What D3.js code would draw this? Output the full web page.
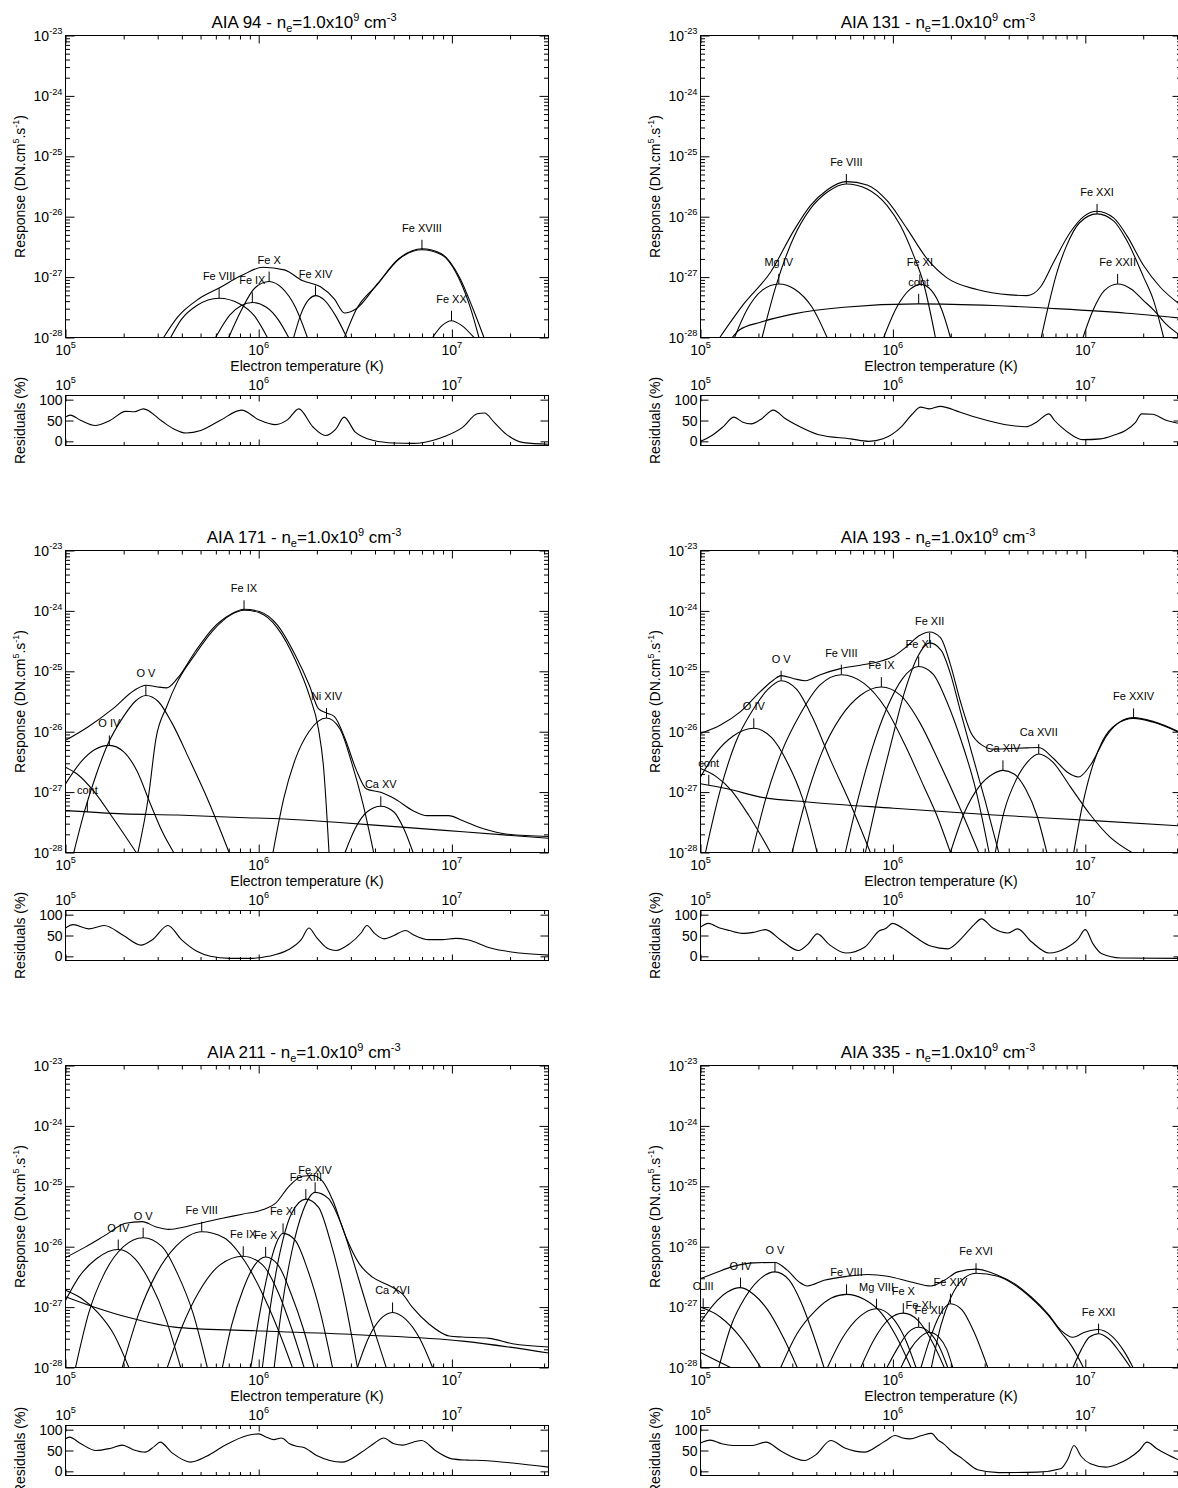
<!DOCTYPE html>
<html><head><meta charset="utf-8">
<script src="https://cdn.jsdelivr.net/npm/d3@7"></script>
<style>
body{margin:0;background:#fff}
svg{display:block}
text{font-family:"Liberation Sans",Arial,Helvetica,sans-serif;fill:#000;white-space:pre}
</style></head>
<body><svg id="c" width="1178" height="1488"></svg>
<script>
// ---------- tick labels ----------
const xTickExp = [5, 6, 7];
const yTickExp = [-23, -24, -25, -26, -27, -28];
const residTicks = [0, 50, 100];
const channels = ["94", "131", "171", "193", "211", "335"];

// ---------- data: [log10 T, log10 response] ----------
// AIA 94
const aia94_total = [[5.508,-28.0],[5.579,-27.667],[5.689,-27.363],[5.795,-27.18],[5.911,-26.975],[6.022,-26.836],[6.133,-26.88],[6.226,-27.058],[6.318,-27.157],[6.392,-27.363],[6.444,-27.595],[6.503,-27.529],[6.614,-27.113],[6.725,-26.697],[6.845,-26.531],[6.946,-26.614],[7.039,-27.002],[7.113,-27.557],[7.166,-28.0]];
const aia94_FeVIII = [[5.544,-28],[5.6,-27.7],[5.68,-27.47],[5.795,-27.35],[5.9,-27.44],[5.98,-27.65],[6.045,-28]];
const aia94_FeIX = [[5.777,-28],[5.85,-27.63],[5.91,-27.47],[5.967,-27.42],[6.04,-27.5],[6.1,-27.7],[6.155,-28]];
const aia94_FeX = [[5.845,-28],[5.91,-27.55],[5.98,-27.18],[6.054,-27.074],[6.12,-27.18],[6.19,-27.5],[6.252,-28]];
const aia94_FeXIV = [[6.181,-28],[6.22,-27.6],[6.26,-27.37],[6.294,-27.307],[6.34,-27.38],[6.4,-27.65],[6.456,-28]];
const aia94_FeXVIII = [[6.444,-28],[6.503,-27.55],[6.614,-27.125],[6.725,-26.705],[6.845,-26.548],[6.946,-26.63],[7.039,-27.04],[7.1,-27.55],[7.14,-28]];
const aia94_FeXX = [[6.9,-28],[6.95,-27.8],[6.998,-27.723],[7.05,-27.8],[7.114,-28]];
const aia94_labels = [["Fe VIII",5.795,-27.35],["Fe IX",5.967,-27.418],["Fe X",6.054,-27.074],["Fe XIV",6.294,-27.307],["Fe XVIII",6.845,-26.548],["Fe XX",6.998,-27.723]];
const aia94_resid = [[5.0,58],[5.024,63],[5.08,50],[5.153,38],[5.23,50],[5.311,72],[5.357,71],[5.403,78],[5.5,48],[5.56,30],[5.625,20],[5.7,26],[5.8,50],[5.911,75],[6.0,52],[6.087,40],[6.15,52],[6.207,78],[6.28,35],[6.346,14],[6.4,30],[6.442,58],[6.5,22],[6.595,2],[6.7,-4],[6.8,-5],[6.9,2],[6.965,12],[7.057,34],[7.131,66],[7.168,68],[7.22,45],[7.279,18],[7.372,-3],[7.5,-7]];

// AIA 131
const aia131_total = [[5.1,-28.0],[5.225,-27.443],[5.364,-26.919],[5.485,-26.23],[5.571,-25.816],[5.658,-25.557],[5.758,-25.419],[5.866,-25.474],[5.97,-25.734],[6.074,-26.202],[6.178,-26.699],[6.281,-27.013],[6.437,-27.206],[6.61,-27.295],[6.697,-27.306],[6.766,-27.168],[6.835,-26.754],[6.922,-26.258],[6.991,-25.998],[7.061,-25.91],[7.147,-26.02],[7.216,-26.313],[7.303,-26.809],[7.39,-27.168],[7.483,-27.432]];
const aia131_FeVIII = [[5.32,-28],[5.39,-27.17],[5.485,-26.34],[5.571,-25.87],[5.658,-25.596],[5.758,-25.458],[5.866,-25.54],[5.97,-25.816],[6.039,-26.147],[6.108,-26.644],[6.16,-27.11],[6.221,-28]];
const aia131_MgIV = [[5.177,-28],[5.24,-27.55],[5.32,-27.22],[5.407,-27.113],[5.49,-27.2],[5.58,-27.5],[5.658,-28]];
const aia131_cont = [[5.165,-28],[5.2,-27.88],[5.312,-27.747],[5.485,-27.609],[5.745,-27.499],[6.134,-27.443],[6.524,-27.471],[6.87,-27.526],[7.216,-27.598],[7.5,-27.68]];
const aia131_FeXI = [[5.952,-28],[6.02,-27.5],[6.09,-27.2],[6.145,-27.12],[6.2,-27.22],[6.255,-27.55],[6.299,-28]];
const aia131_FeXXI = [[6.771,-28],[6.81,-27.45],[6.85,-26.95],[6.9,-26.5],[6.97,-26.1],[7.061,-25.954],[7.147,-26.07],[7.216,-26.395],[7.303,-27.0],[7.355,-27.39],[7.407,-28]];
const aia131_FeXXII = [[6.988,-28],[7.04,-27.55],[7.1,-27.22],[7.168,-27.113],[7.24,-27.2],[7.3,-27.38],[7.357,-27.55],[7.42,-27.78],[7.5,-27.98]];
const aia131_labels = [["Fe VIII",5.758,-25.458],["Mg IV",5.407,-27.113],["Fe XI",6.14,-27.12],["cont",6.134,-27.443],["Fe XXI",7.061,-25.954],["Fe XXII",7.168,-27.113]];
const aia131_resid = [[5.0,0],[5.059,14],[5.12,36],[5.174,58],[5.22,46],[5.263,42],[5.32,55],[5.378,75],[5.44,55],[5.504,38],[5.615,16],[5.782,6],[5.875,0],[5.949,6],[6.042,34],[6.1,65],[6.144,82],[6.19,78],[6.246,84],[6.35,70],[6.431,58],[6.616,38],[6.69,35],[6.746,46],[6.811,66],[6.84,50],[6.876,34],[6.93,15],[6.987,4],[7.08,6],[7.15,15],[7.209,26],[7.26,45],[7.293,66],[7.349,65],[7.423,50],[7.5,42]];

// AIA 171
const aia171_total = [[5.0,-26.144],[5.116,-25.922],[5.246,-25.618],[5.357,-25.313],[5.416,-25.23],[5.47,-25.255],[5.523,-25.274],[5.579,-25.119],[5.671,-24.676],[5.763,-24.288],[5.856,-24.055],[5.924,-23.972],[6.004,-24.011],[6.096,-24.233],[6.189,-24.731],[6.262,-25.23],[6.309,-25.618],[6.351,-25.69],[6.392,-25.75],[6.447,-26.116],[6.503,-26.615],[6.558,-26.947],[6.632,-27.003],[6.706,-27.114],[6.799,-27.307],[6.872,-27.39],[6.983,-27.39],[7.057,-27.474],[7.168,-27.612],[7.279,-27.695],[7.5,-27.734]];
const aia171_low = [[5.0,-26.587],[5.06,-26.7],[5.15,-27.0],[5.25,-27.45],[5.366,-28]];
const aia171_OIV = [[5.0,-26.864],[5.08,-26.5],[5.15,-26.3],[5.227,-26.227],[5.3,-26.33],[5.37,-26.65],[5.44,-27.2],[5.5,-27.65],[5.56,-28]];
const aia171_OV = [[5.043,-28],[5.1,-27.3],[5.16,-26.7],[5.22,-26.2],[5.3,-25.75],[5.36,-25.5],[5.416,-25.4],[5.48,-25.5],[5.55,-25.85],[5.64,-26.45],[5.74,-27.15],[5.847,-28]];
const aia171_FeIX = [[5.375,-28],[5.43,-27.06],[5.468,-26.12],[5.523,-25.59],[5.579,-25.175],[5.671,-24.72],[5.763,-24.327],[5.856,-24.066],[5.924,-23.99],[6.004,-24.03],[6.096,-24.28],[6.189,-24.81],[6.262,-25.4],[6.309,-25.95],[6.336,-26.6],[6.364,-28]];
const aia171_NiXIV = [[6.074,-28],[6.13,-27.1],[6.19,-26.45],[6.26,-26.0],[6.351,-25.773],[6.42,-25.95],[6.48,-26.5],[6.54,-27.2],[6.595,-28]];
const aia171_CaXV = [[6.447,-28],[6.5,-27.6],[6.56,-27.33],[6.632,-27.235],[6.7,-27.33],[6.75,-27.6],[6.799,-28]];
const aia171_cont = [[5.0,-27.307],[5.3,-27.36],[5.579,-27.38],[5.9,-27.42],[6.133,-27.446],[6.4,-27.5],[6.688,-27.568],[7.057,-27.657],[7.5,-27.765]];
const aia171_labels = [["O IV",5.227,-26.227],["O V",5.416,-25.4],["Fe IX",5.924,-23.99],["Ni XIV",6.351,-25.773],["Ca XV",6.632,-27.235],["cont",5.113,-27.33]];
const aia171_resid = [[5.0,68],[5.04,76],[5.12,66],[5.2,74],[5.3,50],[5.39,27],[5.45,40],[5.53,74],[5.6,40],[5.68,12],[5.75,0],[5.85,-5],[5.95,-5],[6.05,0],[6.15,15],[6.22,40],[6.26,68],[6.3,45],[6.36,18],[6.4,14],[6.47,30],[6.53,56],[6.56,74],[6.6,55],[6.65,42],[6.7,50],[6.76,62],[6.8,52],[6.88,40],[6.95,40],[7.02,43],[7.08,40],[7.2,20],[7.35,8],[7.5,3]];

// AIA 193
const aia193_total = [[5.0,-26.028],[5.104,-25.889],[5.208,-25.667],[5.312,-25.333],[5.381,-25.139],[5.419,-25.072],[5.485,-25.122],[5.545,-25.156],[5.623,-25.056],[5.727,-24.956],[5.831,-24.9],[5.935,-24.833],[6.004,-24.75],[6.074,-24.583],[6.134,-24.417],[6.191,-24.35],[6.247,-24.444],[6.299,-24.889],[6.351,-25.5],[6.403,-26.0],[6.463,-26.222],[6.524,-26.289],[6.61,-26.278],[6.697,-26.267],[6.758,-26.261],[6.835,-26.444],[6.905,-26.667],[6.965,-26.75],[7.026,-26.556],[7.113,-26.056],[7.182,-25.833],[7.251,-25.767],[7.355,-25.833],[7.5,-26.02]];
const aia193_low = [[5.0,-26.61],[5.08,-26.74],[5.16,-26.97],[5.25,-27.38],[5.364,-28]];
const aia193_cont = [[5.0,-26.861],[5.139,-26.944],[5.312,-27.083],[5.571,-27.167],[6.004,-27.267],[6.524,-27.378],[7.043,-27.472],[7.5,-27.56]];
const aia193_OIV = [[5.0,-26.75],[5.08,-26.35],[5.17,-26.07],[5.277,-25.944],[5.37,-26.1],[5.45,-26.5],[5.53,-27.1],[5.606,-28]];
const aia193_OV = [[5.026,-28],[5.1,-27.0],[5.18,-26.2],[5.28,-25.6],[5.35,-25.3],[5.419,-25.156],[5.5,-25.3],[5.58,-25.75],[5.68,-26.5],[5.78,-27.2],[5.883,-28]];
const aia193_FeVIII = [[5.268,-28],[5.34,-27.1],[5.42,-26.35],[5.52,-25.7],[5.62,-25.23],[5.732,-25.056],[5.85,-25.2],[5.96,-25.6],[6.06,-26.2],[6.16,-26.9],[6.23,-27.4],[6.299,-28]];
const aia193_FeIX = [[5.476,-28],[5.55,-27.1],[5.63,-26.35],[5.73,-25.75],[5.83,-25.4],[5.94,-25.261],[6.04,-25.4],[6.14,-25.85],[6.24,-26.5],[6.34,-27.2],[6.446,-28]];
const aia193_FeXI = [[5.753,-28],[5.82,-27.1],[5.89,-26.3],[5.97,-25.6],[6.05,-25.12],[6.134,-24.92],[6.21,-25.05],[6.28,-25.5],[6.35,-26.1],[6.43,-26.95],[6.5,-28]];
const aia193_FeXII = [[5.857,-28],[5.92,-27.1],[5.99,-26.2],[6.06,-25.35],[6.13,-24.75],[6.191,-24.53],[6.25,-24.65],[6.3,-25.05],[6.35,-25.65],[6.41,-26.35],[6.48,-27.15],[6.55,-28]];
const aia193_CaXIV = [[6.299,-28],[6.37,-27.35],[6.45,-26.9],[6.52,-26.7],[6.572,-26.64],[6.63,-26.7],[6.69,-26.95],[6.75,-27.4],[6.8,-28]];
const aia193_CaXVII = [[6.532,-28],[6.58,-27.3],[6.64,-26.8],[6.7,-26.5],[6.758,-26.37],[6.83,-26.5],[6.92,-26.9],[7.02,-27.35],[7.13,-27.75],[7.242,-28]];
const aia193_FeXXIV = [[6.94,-28],[6.98,-27.3],[7.03,-26.65],[7.09,-26.15],[7.16,-25.88],[7.251,-25.78],[7.35,-25.84],[7.5,-26.03]];
const aia193_labels = [["cont",5.043,-26.88],["O IV",5.277,-25.944],["O V",5.419,-25.156],["Fe VIII",5.732,-25.056],["Fe IX",5.94,-25.261],["Fe XI",6.134,-24.92],["Fe XII",6.191,-24.53],["Ca XIV",6.572,-26.64],["Ca XVII",6.758,-26.37],["Fe XXIV",7.251,-25.78]];
const aia193_resid = [[5.0,70],[5.04,79],[5.1,68],[5.149,62],[5.227,55],[5.28,58],[5.337,64],[5.42,38],[5.509,14],[5.56,30],[5.607,54],[5.67,28],[5.755,8],[5.853,22],[5.932,62],[5.96,66],[5.998,79],[6.049,68],[6.12,45],[6.2,24],[6.284,18],[6.36,45],[6.42,75],[6.46,90],[6.52,68],[6.597,56],[6.648,66],[6.72,35],[6.812,8],[6.9,20],[6.96,40],[7.0,64],[7.04,30],[7.086,6],[7.184,-4],[7.5,-5]];

// AIA 211
const aia211_total = [[5.0,-26.181],[5.104,-26.003],[5.207,-25.808],[5.311,-25.613],[5.397,-25.585],[5.466,-25.669],[5.535,-25.713],[5.622,-25.669],[5.708,-25.602],[5.812,-25.529],[5.915,-25.462],[6.019,-25.39],[6.088,-25.279],[6.157,-25.0],[6.226,-24.833],[6.278,-24.822],[6.33,-24.916],[6.382,-25.223],[6.451,-25.836],[6.52,-26.281],[6.589,-26.504],[6.675,-26.643],[6.744,-26.783],[6.796,-27.006],[6.883,-27.284],[6.986,-27.479],[7.055,-27.496],[7.193,-27.518],[7.314,-27.607],[7.5,-27.66]];
const aia211_low = [[5.0,-26.72],[5.08,-26.85],[5.17,-27.1],[5.25,-27.45],[5.328,-28]];
const aia211_cont = [[5.0,-26.827],[5.155,-27.006],[5.328,-27.173],[5.587,-27.34],[6.019,-27.396],[6.537,-27.462],[7.055,-27.563],[7.5,-27.76]];
const aia211_OIV = [[5.0,-26.89],[5.07,-26.5],[5.16,-26.2],[5.273,-26.047],[5.36,-26.2],[5.44,-26.6],[5.52,-27.2],[5.596,-28]];
const aia211_OV = [[5.052,-28],[5.12,-27.1],[5.2,-26.45],[5.3,-26.0],[5.402,-25.852],[5.5,-26.0],[5.58,-26.45],[5.66,-27.1],[5.734,-28]];
const aia211_FeVIII = [[5.294,-28],[5.38,-27.1],[5.47,-26.45],[5.57,-26.0],[5.705,-25.752],[5.82,-25.85],[5.93,-26.25],[6.03,-26.85],[6.11,-27.45],[6.174,-28]];
const aia211_FeIX = [[5.527,-28],[5.6,-27.35],[5.69,-26.75],[5.8,-26.3],[5.92,-26.159],[6.02,-26.3],[6.1,-26.75],[6.17,-27.35],[6.235,-28]];
const aia211_FeX = [[5.812,-28],[5.86,-27.3],[5.92,-26.7],[5.98,-26.3],[6.036,-26.17],[6.1,-26.3],[6.17,-26.8],[6.23,-27.35],[6.287,-28]];
const aia211_FeXI = [[5.959,-28],[6.0,-27.2],[6.05,-26.4],[6.09,-25.95],[6.126,-25.78],[6.19,-25.9],[6.25,-26.35],[6.32,-27.1],[6.382,-28]];
const aia211_FeXIII = [[6.019,-28],[6.06,-27.0],[6.11,-26.1],[6.17,-25.45],[6.244,-25.212],[6.31,-25.35],[6.37,-25.9],[6.44,-26.8],[6.511,-28]];
const aia211_FeXIV = [[6.08,-28],[6.12,-27.0],[6.17,-26.1],[6.23,-25.4],[6.292,-25.1],[6.36,-25.2],[6.43,-25.65],[6.5,-26.35],[6.58,-27.2],[6.66,-28]];
const aia211_CaXVI = [[6.511,-28],[6.57,-27.5],[6.63,-27.2],[6.693,-27.089],[6.76,-27.2],[6.83,-27.5],[6.9,-28]];
const aia211_labels = [["O IV",5.273,-26.047],["O V",5.402,-25.852],["Fe VIII",5.705,-25.752],["Fe IX",5.92,-26.159],["Fe X",6.036,-26.17],["Fe XI",6.126,-25.78],["Fe XIII",6.244,-25.212],["Fe XIV",6.292,-25.1],["Ca XVI",6.693,-27.089]];
const aia211_resid = [[5.0,78],[5.02,82],[5.08,66],[5.157,50],[5.23,55],[5.294,63],[5.35,52],[5.412,46],[5.46,60],[5.49,70],[5.55,45],[5.647,22],[5.73,36],[5.824,62],[5.941,86],[6.0,90],[6.04,82],[6.078,76],[6.118,80],[6.16,66],[6.196,60],[6.23,58],[6.3,38],[6.431,22],[6.53,45],[6.6,68],[6.647,80],[6.7,66],[6.745,63],[6.8,70],[6.843,74],[6.92,48],[7.0,30],[7.08,27],[7.157,26],[7.314,20],[7.5,10]];

// AIA 335
const aia335_total = [[5.0,-26.528],[5.069,-26.444],[5.174,-26.322],[5.278,-26.267],[5.387,-26.261],[5.451,-26.389],[5.512,-26.583],[5.556,-26.65],[5.642,-26.556],[5.764,-26.489],[5.868,-26.461],[5.972,-26.489],[6.094,-26.583],[6.198,-26.65],[6.267,-26.556],[6.337,-26.417],[6.432,-26.372],[6.545,-26.472],[6.632,-26.611],[6.719,-26.833],[6.806,-27.111],[6.875,-27.389],[6.936,-27.5],[6.997,-27.417],[7.066,-27.372],[7.135,-27.472],[7.205,-27.75],[7.248,-28]];
const aia335_low = [[5.0,-27.75],[5.08,-27.88],[5.156,-28]];
const aia335_OIII = [[5.0,-27.0],[5.104,-27.167],[5.208,-27.5],[5.313,-28]];
const aia335_OIV = [[5.0,-27.25],[5.07,-26.95],[5.14,-26.75],[5.208,-26.678],[5.28,-26.8],[5.35,-27.05],[5.43,-27.5],[5.503,-28]];
const aia335_OV = [[5.095,-28],[5.16,-27.3],[5.23,-26.85],[5.3,-26.56],[5.387,-26.417],[5.46,-26.55],[5.52,-26.9],[5.58,-27.4],[5.642,-28]];
const aia335_FeVIII = [[5.417,-28],[5.5,-27.45],[5.6,-27.05],[5.68,-26.85],[5.759,-26.789],[5.85,-26.87],[5.94,-27.1],[6.02,-27.5],[6.094,-28]];
const aia335_MgVIII = [[5.66,-28],[5.74,-27.5],[5.83,-27.15],[5.915,-27.028],[5.99,-27.15],[6.06,-27.5],[6.12,-28]];
const aia335_FeX = [[5.833,-28],[5.9,-27.55],[5.98,-27.2],[6.054,-27.1],[6.13,-27.22],[6.2,-27.55],[6.267,-28]];
const aia335_FeXI = [[5.969,-28],[6.03,-27.65],[6.08,-27.42],[6.134,-27.333],[6.19,-27.42],[6.24,-27.65],[6.285,-28]];
const aia335_FeXII = [[6.042,-28],[6.09,-27.7],[6.14,-27.5],[6.189,-27.417],[6.24,-27.5],[6.28,-27.7],[6.311,-28]];
const aia335_FeXIV = [[6.146,-28],[6.19,-27.55],[6.24,-27.15],[6.299,-26.944],[6.36,-27.05],[6.42,-27.4],[6.493,-28]];
const aia335_FeXVI = [[6.2,-28],[6.25,-27.3],[6.3,-26.85],[6.36,-26.55],[6.432,-26.44],[6.545,-26.49],[6.632,-26.63],[6.719,-26.85],[6.806,-27.13],[6.875,-27.42],[6.93,-27.65],[6.99,-28]];
const aia335_FeXXI = [[6.936,-28],[6.98,-27.7],[7.02,-27.5],[7.069,-27.44],[7.12,-27.52],[7.18,-27.75],[7.235,-28]];
const aia335_labels = [["O III",5.014,-27.02],["O IV",5.208,-26.678],["O V",5.387,-26.417],["Fe VIII",5.759,-26.789],["Mg VIII",5.915,-27.028],["Fe X",6.054,-27.1],["Fe XI",6.134,-27.333],["Fe XII",6.189,-27.417],["Fe XIV",6.299,-26.944],["Fe XVI",6.432,-26.44],["Fe XXI",7.069,-27.44]];
const aia335_resid = [[5.0,68],[5.05,75],[5.11,66],[5.17,62],[5.27,62],[5.34,70],[5.42,48],[5.54,26],[5.6,40],[5.677,74],[5.75,56],[5.853,46],[5.93,64],[5.971,76],[6.01,86],[6.05,80],[6.088,78],[6.15,86],[6.2,91],[6.235,75],[6.264,66],[6.3,50],[6.362,30],[6.44,4],[6.55,-3],[6.75,-2],[6.871,6],[6.91,30],[6.941,62],[6.98,35],[7.027,18],[7.106,10],[7.17,18],[7.223,30],[7.28,50],[7.321,70],[7.37,55],[7.419,42],[7.5,24]];

// ---------- panel assembly ----------
const panels = [
  {ch: channels[0], col: 0, row: 0, curves: [aia94_total, aia94_FeVIII, aia94_FeIX, aia94_FeX, aia94_FeXIV, aia94_FeXVIII, aia94_FeXX], labels: aia94_labels, resid: aia94_resid},
  {ch: channels[1], col: 1, row: 0, curves: [aia131_total, aia131_FeVIII, aia131_MgIV, aia131_cont, aia131_FeXI, aia131_FeXXI, aia131_FeXXII], labels: aia131_labels, resid: aia131_resid},
  {ch: channels[2], col: 0, row: 1, curves: [aia171_total, aia171_low, aia171_OIV, aia171_OV, aia171_FeIX, aia171_NiXIV, aia171_CaXV, aia171_cont], labels: aia171_labels, resid: aia171_resid},
  {ch: channels[3], col: 1, row: 1, curves: [aia193_total, aia193_low, aia193_cont, aia193_OIV, aia193_OV, aia193_FeVIII, aia193_FeIX, aia193_FeXI, aia193_FeXII, aia193_CaXIV, aia193_CaXVII, aia193_FeXXIV], labels: aia193_labels, resid: aia193_resid},
  {ch: channels[4], col: 0, row: 2, curves: [aia211_total, aia211_low, aia211_cont, aia211_OIV, aia211_OV, aia211_FeVIII, aia211_FeIX, aia211_FeX, aia211_FeXI, aia211_FeXIII, aia211_FeXIV, aia211_CaXVI], labels: aia211_labels, resid: aia211_resid},
  {ch: channels[5], col: 1, row: 2, curves: [aia335_total, aia335_low, aia335_OIII, aia335_OIV, aia335_OV, aia335_FeVIII, aia335_MgVIII, aia335_FeX, aia335_FeXI, aia335_FeXII, aia335_FeXIV, aia335_FeXVI, aia335_FeXXI], labels: aia335_labels, resid: aia335_resid}
];

// ---------- layout ----------
const colX = [[65.5, 548.5], [700.5, 1181.5]];
const rowTop = [35.5, 550.5, 1065.5];
const MAIN_H = 302, RES_OFF = 360, RES_H = 50;
const FS = 14;

const svg = d3.select("#c");
svg.append("rect").attr("width", 1178).attr("height", 1488).attr("fill", "#fff");

function powLabel(sel, base, exp, fs) {
  sel.append("tspan").text(base);
  sel.append("tspan").attr("font-size", fs * 0.66).attr("dy", -fs * 0.45).text(exp);
}
function minorVals(lo, hi) {
  const out = [];
  for (let e = lo; e < hi; e++) for (let m = 2; m <= 9; m++) out.push(m * Math.pow(10, e));
  return out;
}
function tickAxis(g, axisFn, scale, vals, len, tr) {
  g.append("g").attr("transform", tr)
    .call(axisFn(scale).tickValues(vals).tickSizeInner(-len).tickSizeOuter(0).tickFormat(""))
    .call(s => s.select(".domain").remove())
    .call(s => s.selectAll("line").attr("stroke", "#000"));
}

panels.forEach((p, i) => {
  const [xa, xb] = colX[p.col];
  const top = rowTop[p.row], bot = top + MAIN_H;
  const rTop = top + RES_OFF, rBot = rTop + RES_H;
  const xMax = Math.pow(10, 7.5);
  const x = d3.scaleLog().domain([1e5, xMax]).range([xa, xb]);
  const y = d3.scaleLog().domain([1e-28, 1e-23]).range([bot, top]);
  const yr = d3.scaleLinear().domain([-10, 110]).range([rBot, rTop]);
  const g = svg.append("g");

  const defs = svg.append("defs");
  defs.append("clipPath").attr("id", "cm" + i).append("rect")
    .attr("x", xa).attr("y", top).attr("width", xb - xa).attr("height", bot - top);
  defs.append("clipPath").attr("id", "cr" + i).append("rect")
    .attr("x", xa).attr("y", rTop).attr("width", xb - xa).attr("height", rBot - rTop);

  // curves
  const line = d3.line().x(d => x(Math.pow(10, d[0]))).y(d => y(Math.pow(10, d[1]))).curve(d3.curveMonotoneX);
  const cg = g.append("g").attr("clip-path", `url(#cm${i})`);
  p.curves.forEach(c => cg.append("path").attr("d", line(c)).attr("fill", "none").attr("stroke", "#000").attr("stroke-width", 1.1));

  // labels
  p.labels.forEach(([name, lt, lr]) => {
    const px = x(Math.pow(10, lt)), py = y(Math.pow(10, lr));
    g.append("line").attr("x1", px).attr("x2", px).attr("y1", py).attr("y2", py - 10).attr("stroke", "#000").attr("stroke-width", 1);
    g.append("text").attr("x", px).attr("y", py - 18).attr("text-anchor", "middle").attr("font-size", 11).attr("fill", "#222").text(name);
  });

  // main axes ticks
  const xMin = minorVals(5, 8).filter(v => v <= xMax);
  const xMaj = xTickExp.map(e => Math.pow(10, e));
  const yMaj = yTickExp.map(e => Math.pow(10, e));
  const yMin = minorVals(-28, -23);
  tickAxis(g, d3.axisBottom, x, xMaj, 8, `translate(0,${bot})`);
  tickAxis(g, d3.axisBottom, x, xMin, 4, `translate(0,${bot})`);
  tickAxis(g, d3.axisTop, x, xMaj, 8, `translate(0,${top})`);
  tickAxis(g, d3.axisTop, x, xMin, 4, `translate(0,${top})`);
  tickAxis(g, d3.axisLeft, y, yMaj, 9, `translate(${xa},0)`);
  tickAxis(g, d3.axisLeft, y, yMin, 4.5, `translate(${xa},0)`);
  tickAxis(g, d3.axisRight, y, yMaj, 9, `translate(${xb},0)`);
  tickAxis(g, d3.axisRight, y, yMin, 4.5, `translate(${xb},0)`);
  g.append("rect").attr("x", xa).attr("y", top).attr("width", xb - xa).attr("height", bot - top)
    .attr("fill", "none").attr("stroke", "#000").attr("stroke-width", 1);

  // tick labels
  xTickExp.forEach(e => {
    const t = g.append("text").attr("x", x(Math.pow(10, e))).attr("y", bot + 17).attr("text-anchor", "middle").attr("font-size", FS);
    powLabel(t, "10", String(e), FS);
  });
  yTickExp.forEach(e => {
    const t = g.append("text").attr("x", xa - 3).attr("y", y(Math.pow(10, e)) + 5).attr("text-anchor", "end").attr("font-size", FS);
    powLabel(t, "10", String(e), FS);
  });

  // title
  const tt = g.append("text").attr("x", (xa + xb) / 2 - 3).attr("y", top - 8).attr("text-anchor", "middle").attr("font-size", 17);
  tt.append("tspan").text(`AIA ${p.ch} - n`);
  tt.append("tspan").attr("font-size", 11).attr("dy", 4).text("e");
  tt.append("tspan").attr("dy", -4).text("=1.0x10");
  tt.append("tspan").attr("font-size", 11).attr("dy", -7).text("9");
  tt.append("tspan").attr("dy", 7).text(" cm");
  tt.append("tspan").attr("font-size", 11).attr("dy", -7).text("-3");

  // axis titles
  g.append("text").attr("x", (xa + xb) / 2).attr("y", bot + 33).attr("text-anchor", "middle").attr("font-size", FS).text("Electron temperature (K)");
  const yt = g.append("text").attr("transform", `translate(${xa - 41},${(top + bot) / 2}) rotate(-90)`).attr("text-anchor", "middle").attr("font-size", FS);
  yt.append("tspan").text("Response (DN.cm");
  yt.append("tspan").attr("font-size", 9).attr("dy", -6).text("5");
  yt.append("tspan").attr("dy", 6).text(".s");
  yt.append("tspan").attr("font-size", 9).attr("dy", -6).text("-1");
  yt.append("tspan").attr("dy", 6).text(")");

  // residuals
  const rline = d3.line().x(d => x(Math.pow(10, d[0]))).y(d => yr(d[1])).curve(d3.curveMonotoneX);
  g.append("g").attr("clip-path", `url(#cr${i})`).append("path").attr("d", rline(p.resid))
    .attr("fill", "none").attr("stroke", "#000").attr("stroke-width", 1.1);
  tickAxis(g, d3.axisBottom, x, xMaj, 6, `translate(0,${rBot})`);
  tickAxis(g, d3.axisBottom, x, xMin, 3.5, `translate(0,${rBot})`);
  tickAxis(g, d3.axisTop, x, xMaj, 6, `translate(0,${rTop})`);
  tickAxis(g, d3.axisTop, x, xMin, 3.5, `translate(0,${rTop})`);
  tickAxis(g, d3.axisLeft, yr, residTicks, 8, `translate(${xa},0)`);
  tickAxis(g, d3.axisRight, yr, residTicks, 8, `translate(${xb},0)`);
  g.append("rect").attr("x", xa).attr("y", rTop).attr("width", xb - xa).attr("height", rBot - rTop)
    .attr("fill", "none").attr("stroke", "#000").attr("stroke-width", 1);
  xTickExp.forEach(e => {
    const t = g.append("text").attr("x", x(Math.pow(10, e))).attr("y", rTop - 6).attr("text-anchor", "middle").attr("font-size", FS);
    powLabel(t, "10", String(e), FS);
  });
  residTicks.forEach(v => {
    g.append("text").attr("x", xa - 3).attr("y", yr(v) + 5).attr("text-anchor", "end").attr("font-size", FS).text(String(v));
  });
  g.append("text").attr("transform", `translate(${xa - 41},${(rTop + rBot) / 2}) rotate(-90)`).attr("text-anchor", "middle").attr("font-size", FS).text("Residuals (%)");
});
</script></body></html>
